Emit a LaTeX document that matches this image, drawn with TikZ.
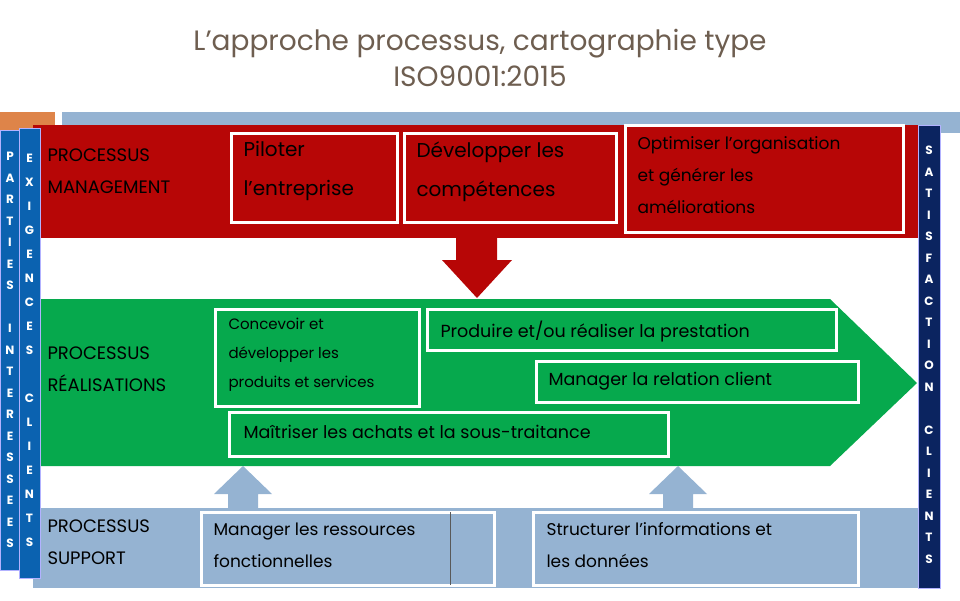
\documentclass[tikz,border=0pt]{standalone}
\usepackage{fontspec}
\setmainfont{Poppins}
\definecolor{redb}{HTML}{B70606}
\definecolor{greenb}{HTML}{06A94D}
\definecolor{lblue}{HTML}{95B3D2}
\definecolor{dblue}{HTML}{0B62B0}
\definecolor{navy}{HTML}{0B2460}
\definecolor{orng}{HTML}{DE8449}
\definecolor{titlec}{HTML}{6E5E50}
\tikzset{
 wbox/.style={draw=white,line width=3pt,anchor=north west,inner sep=0pt},
 btxt/.style={anchor=north west,align=left,font=\fontsize{16}{19}\selectfont,text=black},
 vbar/.style={draw=white!70!blue,line width=0.8pt,anchor=north west,inner sep=0pt},
 vletters/.style={font=\bfseries\fontsize{12}{21.5}\selectfont,align=center,text=white},
 label/.style={anchor=north west,align=left,font=\fontsize{18}{32}\selectfont,text=black}
}
\begin{document}
\begin{tikzpicture}[x=1pt,y=-1pt]
\useasboundingbox (0,0) rectangle (960,600);
\node (title) at (480,58) [align=center,text=titlec,font=\fontsize{28}{36}\selectfont] {L’approche processus, cartographie type\\ISO9001:2015};
% top bars
\fill[orng] (0,112) rectangle (55,133);
\fill[lblue] (62,112) rectangle (960,133);
% bands
\fill[redb] (33,125) rectangle (918,238);
\fill[lblue] (33,508) rectangle (918,588);
\fill[greenb] (40,299) -- (830,299) -- (917,383) -- (830,466) -- (40,466) -- cycle;
% down arrow
\fill[redb] (456,238) -- (497,238) -- (497,260) -- (512,260) -- (477,298) -- (442,260) -- (456,260) -- cycle;
% up arrows
\foreach \cx in {243,678}{
 \fill[lblue] (\cx-15,512) -- (\cx+15,512) -- (\cx+15,494) -- (\cx+29,494) -- (\cx,466) -- (\cx-29,494) -- (\cx-15,494) -- cycle;
}
% labels
\node[label] (lm) at (44,145) {PROCESSUS\\MANAGEMENT};
\node[label] (lr) at (44,343) {PROCESSUS\\RÉALISATIONS};
\node[label] (ls) at (44,516) {PROCESSUS\\SUPPORT};
% management boxes
\draw[wbox] (231,133) rectangle (397,222);
\node[btxt,font=\fontsize{20}{39}\selectfont] (b1) at (240,138) {Piloter\\l’entreprise};
\draw[wbox] (404,133) rectangle (616,222);
\node[btxt,font=\fontsize{20}{39}\selectfont] (b2) at (413,138) {Développer les\\compétences};
\draw[wbox] (625,125) rectangle (903,232);
\node[btxt,font=\fontsize{17}{32}\selectfont] (b3) at (634,133) {Optimiser l’organisation\\et générer les\\améliorations};
% realisation boxes
\draw[wbox] (215,309) rectangle (419,406);
\node[btxt,font=\fontsize{15}{29}\selectfont] (c1) at (225,315) {Concevoir et\\développer les\\produits et services};
\draw[wbox] (427,309) rectangle (836,350);
\node[btxt,font=\fontsize{17.5}{20}\selectfont] (c2) at (437,317) {Produire et/ou réaliser la prestation};
\draw[wbox] (536,361) rectangle (858,402);
\node[btxt,font=\fontsize{17.5}{20}\selectfont] (c3) at (545,369) {Manager la relation client};
\draw[wbox] (229,412) rectangle (668,456);
\node[btxt,font=\fontsize{17.5}{20}\selectfont] (c4) at (240,422) {Maîtriser les achats et la sous-traitance};
% support boxes
\draw[wbox] (201,512) rectangle (494,585);
\draw[gray!70!black,line width=0.8pt] (450,512) -- (450,585);
\node[btxt,font=\fontsize{17}{32}\selectfont] (s1) at (210,519) {Manager les ressources\\fonctionnelles};
\draw[wbox] (533,512) rectangle (858,585);
\node[btxt,font=\fontsize{17}{32}\selectfont] (s2) at (543,519) {Structurer l’informations et\\les données};
% vertical bars
\draw[vbar,fill=dblue] (0,130) rectangle (20,570);
\node[vletters] (pi) at (10,350) {P\\A\\R\\T\\I\\E\\S\\ \\I\\N\\T\\E\\R\\E\\S\\S\\E\\E\\S};
\draw[vbar,fill=dblue] (19,128) rectangle (40,578);
\node[vletters,font=\bfseries\fontsize{12}{24}\selectfont] (ec) at (29.5,350) {E\\X\\I\\G\\E\\N\\C\\E\\S\\ \\C\\L\\I\\E\\N\\T\\S};
\draw[vbar,fill=navy] (918,125) rectangle (940,588);
\node[vletters] (sc) at (929,355) {S\\A\\T\\I\\S\\F\\A\\C\\T\\I\\O\\N\\ \\C\\L\\I\\E\\N\\T\\S};
\end{tikzpicture}
\end{document}
